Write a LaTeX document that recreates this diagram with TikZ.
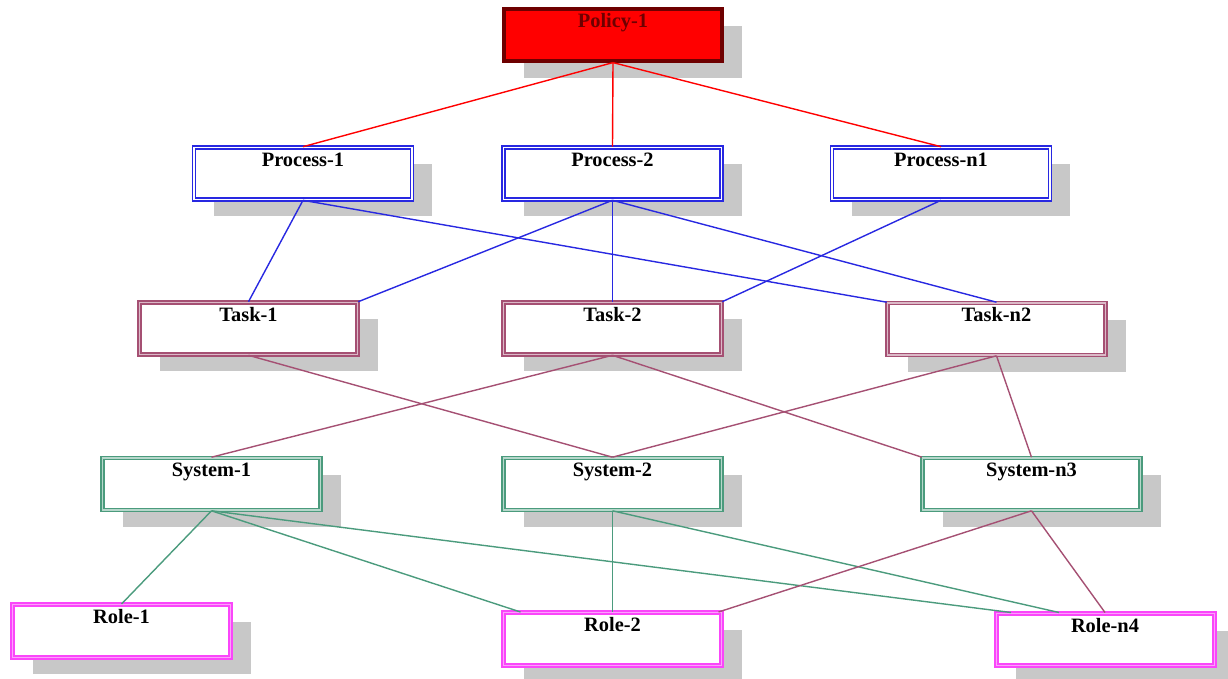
\documentclass[tikz,border=0pt]{standalone}
\usepackage{fontspec}
\setmainfont{Liberation Serif}
\usepackage{tikz}
\usetikzlibrary{shadows}
\definecolor{shgray}{RGB}{200,200,200}
\definecolor{polred}{RGB}{255,0,0}
\definecolor{poldark}{RGB}{110,0,0}
\definecolor{procblue}{RGB}{40,40,225}
\definecolor{taskrose}{RGB}{165,80,115}
\definecolor{sysgreen}{RGB}{75,155,125}
\definecolor{rolemag}{RGB}{250,70,250}
\tikzstyle{graph}=[x=0.5pt, y=-0.5pt, font=\bfseries\fontsize{10.2}{12}\selectfont]
\tikzstyle{box}=[rectangle, inner sep=0pt, minimum width=109pt, text height=9.5pt, text depth=16.5pt, align=center, drop shadow={shadow xshift=10pt, shadow yshift=-8.5pt, fill=shgray, opacity=1}]
\tikzstyle{pol}=[box, draw=poldark, line width=1.6pt, fill=polred, text=poldark]
\tikzstyle{proc}=[box, draw=procblue, line width=0.8pt, double=white, double distance=0.6pt, fill=white]
\tikzstyle{task}=[box, draw=taskrose, line width=0.8pt, double=white!60!taskrose, double distance=0.6pt, fill=white]
\tikzstyle{sys}=[box, draw=sysgreen, line width=0.8pt, double=white!60!sysgreen, double distance=0.6pt, fill=white]
\tikzstyle{role}=[box, draw=rolemag, line width=1pt, double=white!50!rolemag, double distance=0.5pt, fill=white]
\tikzstyle{redge}=[draw=polred, line width=0.7pt]
\tikzstyle{bedge}=[draw=procblue, line width=0.7pt]
\tikzstyle{medge}=[draw=taskrose, line width=0.7pt]
\tikzstyle{gedge}=[draw=sysgreen, line width=0.7pt]

\begin{document}
\begin{tikzpicture}[graph]
	\useasboundingbox (0,0) rectangle (1228,679);
	\draw (613,35) node[pol] (pol1) {Policy-1};
	\draw (303,173.5) node[proc] (p1) {Process-1};
	\draw (612.5,173.5) node[proc] (p2) {Process-2};
	\draw (941,173.5) node[proc] (pn1) {Process-n1};
	\draw (248.5,328.5) node[task] (t1) {Task-1};
	\draw (612.5,328.5) node[task] (t2) {Task-2};
	\draw (996.5,329) node[task] (tn2) {Task-n2};
	\draw (211.5,484) node[sys] (s1) {System-1};
	\draw (612.5,484) node[sys] (s2) {System-2};
	\draw (1031.5,484) node[sys] (sn3) {System-n3};
	\draw (121.5,631) node[role] (r1) {Role-1};
	\draw (612.5,639) node[role] (r2) {Role-2};
	\draw (1105,639.5) node[role] (rn4) {Role-n4};

	\draw[redge] (pol1.south) -- (p1.north);
	\draw[redge] (pol1.south) -- (p2.north);
	\draw[redge] (pol1.south) -- (pn1.north);

	\draw[bedge] (p1.south) -- (t1.north);
	\draw[bedge] (p1.south) -- (tn2.north west);
	\draw[bedge] (p2.south) -- (t1.north east);
	\draw[bedge] (p2.south) -- (t2.north);
	\draw[bedge] (p2.south) -- (tn2.north);
	\draw[bedge] (pn1.south) -- (t2.north east);

	\draw[medge] (t1.south) -- (s2.north);
	\draw[medge] (t2.south) -- (s1.north);
	\draw[medge] (t2.south) -- (sn3.north west);
	\draw[medge] (tn2.south) -- (s2.north);
	\draw[medge] (tn2.south) -- (sn3.north);

	\draw[gedge] (s1.south) -- (r1.north);
	\draw[gedge] (s1.south) -- ([xshift=9pt]r2.north west);
	\draw[gedge] (s1.south) -- ([xshift=8pt]rn4.north west);
	\draw[gedge] (s2.south) -- (r2.north);
	\draw[gedge] (s2.south) -- ([xshift=32pt]rn4.north west);
	\draw[medge] (sn3.south) -- ([xshift=-2pt]r2.north east);
	\draw[medge] (sn3.south) -- (rn4.north);
\end{tikzpicture}
\end{document}
